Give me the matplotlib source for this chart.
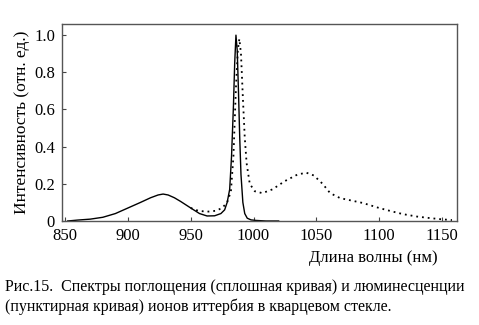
import matplotlib
matplotlib.use("Agg")
import matplotlib.pyplot as plt

# поглощение (сплошная кривая)
abs_nm = [852, 860, 870, 880, 890, 900, 910, 918, 924, 928, 932, 937, 942, 950, 957, 963,
          969, 974, 977, 979, 981, 982.5, 984, 985, 986, 987, 988, 989, 990, 991.5,
          993, 995, 998, 1002, 1010, 1020]
abs_val = [0.0, 0.005, 0.01, 0.02, 0.04, 0.07, 0.10, 0.125, 0.14, 0.145, 0.14, 0.125, 0.105,
           0.07, 0.04, 0.027, 0.028, 0.04, 0.06, 0.10, 0.17, 0.35, 0.62, 0.85, 1.0, 0.92,
           0.7, 0.45, 0.25, 0.1, 0.04, 0.015, 0.006, 0.003, 0.0, 0.0]

# люминесценция (пунктирная кривая)
lum_nm = [950, 956, 963, 970, 975, 979, 982, 984, 986, 987.5, 988.7, 990, 991.6, 993,
          994.5, 997, 1001, 1007, 1015, 1025, 1035, 1042, 1048, 1055, 1061, 1069, 1078,
          1087, 1100, 1110, 1119, 1130, 1140, 1150, 1158]
lum_val = [0.07, 0.055, 0.05, 0.055, 0.07, 0.10, 0.16, 0.35, 0.72, 0.92, 0.98, 0.9, 0.65,
           0.45, 0.31, 0.2, 0.16, 0.15, 0.17, 0.215, 0.25, 0.26, 0.245, 0.2, 0.15, 0.123,
           0.11, 0.097, 0.07, 0.052, 0.037, 0.024, 0.016, 0.009, 0.005]

x_ticks = [850, 900, 950, 1000, 1050, 1100, 1150]
y_ticks = [0, 0.2, 0.4, 0.6, 0.8, 1.0]
y_tick_labels = ["0", "0.2", "0.4", "0.6", "0.8", "1.0"]

plt.rcParams['font.family'] = ['Liberation Serif', 'DejaVu Serif']

fig = plt.figure(figsize=(4.79, 3.25), dpi=100)
ax = fig.add_axes([62 / 479, 1 - 221 / 325, 395 / 479, 197 / 325])

ax.plot(abs_nm, abs_val, color='black', linewidth=1.0)
ax.plot(lum_nm, lum_val, color='black', linewidth=1.3, linestyle=(0, (1, 2.2)))

ax.set_xlim(847.5, 1162)
ax.set_ylim(0, 1.06)
ax.set_xticks(x_ticks)
ax.set_yticks(y_ticks)
ax.set_yticklabels(y_tick_labels)
ax.tick_params(direction='in', length=3, labelsize=12, color='#444444', pad=5)
for s in ax.spines.values():
    s.set_color('#555555')
    s.set_linewidth(1.0)

ax.set_ylabel("Интенсивность (отн. ед.)", fontsize=12.5, labelpad=3)
fig.text(438 / 479, 1 - 258 / 325, "Длина волны (нм)", ha='right', va='center', fontsize=12)

fig.text(5 / 479, 1 - 287 / 325,
         "Рис.15.  Спектры поглощения (сплошная кривая) и люминесценции",
         ha='left', va='center', fontsize=11.5)
fig.text(5 / 479, 1 - 307 / 325,
         "(пунктирная кривая) ионов иттербия в кварцевом стекле.",
         ha='left', va='center', fontsize=11.5)

fig.savefig("out.png", dpi=100)
